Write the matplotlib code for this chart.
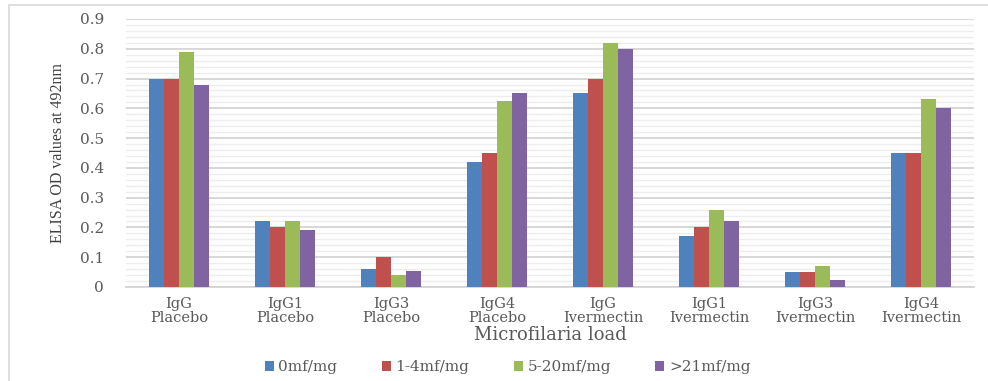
import numpy as np
import matplotlib.pyplot as plt
from matplotlib.patches import Rectangle
from matplotlib.ticker import MultipleLocator

plt.rcParams['font.family'] = ['DejaVu Serif', 'Liberation Serif']

# ELISA OD values per antibody / treatment group
groups = ["IgG\nPlacebo", "IgG1\nPlacebo", "IgG3\nPlacebo", "IgG4\nPlacebo",
          "IgG\nIvermectin", "IgG1\nIvermectin", "IgG3\nIvermectin", "IgG4\nIvermectin"]
series_names = ["0mf/mg", "1-4mf/mg", "5-20mf/mg", ">21mf/mg"]
mf_0 = [0.70, 0.22, 0.06, 0.42, 0.65, 0.17, 0.05, 0.45]
mf_1_4 = [0.70, 0.20, 0.10, 0.45, 0.70, 0.20, 0.05, 0.45]
mf_5_20 = [0.79, 0.22, 0.04, 0.625, 0.82, 0.26, 0.07, 0.63]
mf_21 = [0.68, 0.19, 0.055, 0.65, 0.80, 0.22, 0.025, 0.60]
yticks = [0, 0.1, 0.2, 0.3, 0.4, 0.5, 0.6, 0.7, 0.8, 0.9]
ytick_labels = ["0", "0.1", "0.2", "0.3", "0.4", "0.5", "0.6", "0.7", "0.8", "0.9"]

colors = ["#4F81BD", "#C0504D", "#9BBB59", "#8064A2"]
text_gray = "#595959"

fig = plt.figure(figsize=(9.88, 3.81), dpi=100)
ax = fig.add_axes([126 / 988, 1 - 287 / 381, 848 / 988, 268 / 381])

# light frame around the whole chart
fig.patches.append(Rectangle((9 / 988, -0.1), 990 / 988, 1 - 5 / 381 + 0.1,
                             transform=fig.transFigure, fill=False,
                             edgecolor="#D9D9D9", linewidth=1.2))

x = np.arange(len(groups))
width = 0.142
for i, (vals, name) in enumerate(zip([mf_0, mf_1_4, mf_5_20, mf_21], series_names)):
    ax.bar(x + (i - 1.5) * width, vals, width, color=colors[i], label=name, zorder=3)

ax.set_xlim(-0.5, len(groups) - 0.5)
ax.set_ylim(0, 0.9)
ax.set_yticks(yticks)
ax.set_yticklabels(ytick_labels)
ax.yaxis.set_minor_locator(MultipleLocator(0.02))
ax.grid(axis="y", which="major", color="#D4D4D4", linewidth=1.3, zorder=0)
ax.grid(axis="y", which="minor", color="#EDEDED", linewidth=1.0, zorder=0)
ax.set_xticks(x)
ax.set_xticklabels(groups, fontsize=10.5, color=text_gray, linespacing=1.0)
ax.tick_params(axis="y", which="both", length=0, labelsize=11, labelcolor=text_gray, pad=16)
ax.tick_params(axis="x", length=0, pad=7)
for side in ["top", "right", "left"]:
    ax.spines[side].set_visible(False)
ax.spines["bottom"].set_color("#D4D4D4")
ax.spines["bottom"].set_linewidth(1.3)

ax.set_xlabel("Microfilaria load", fontsize=13, color=text_gray, labelpad=1)
ax.set_ylabel("ELISA OD values at 492nm", fontsize=11.5, color="#404040",
              family="Liberation Serif", labelpad=10)

ax.legend(loc="center", bbox_to_anchor=(0.45, -0.3), ncol=4, frameon=False,
          fontsize=11, handlelength=0.6, handleheight=0.6, handletextpad=0.3,
          columnspacing=2.9, labelcolor=text_gray)

fig.savefig("out.png", dpi=100)
